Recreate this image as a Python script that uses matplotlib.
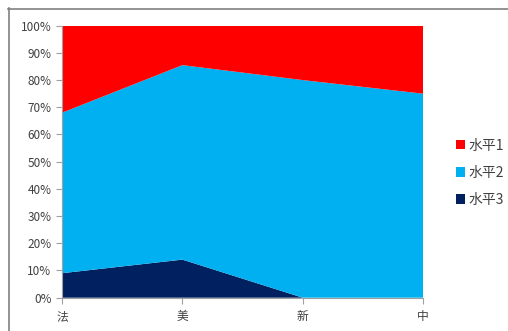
import matplotlib.pyplot as plt
from matplotlib.lines import Line2D
from matplotlib.patches import Patch
from matplotlib.ticker import PercentFormatter

plt.rcParams['font.family'] = ['Noto Sans CJK SC', 'DejaVu Sans']

countries = ['法', '美', '新', '中']
level1 = [32.0, 14.5, 20.0, 25.0]
level2 = [59.0, 71.5, 80.0, 75.0]
level3 = [9.0, 14.0, 0.0, 0.0]
series_names = ['水平1', '水平2', '水平3']
colors = ['#ff0000', '#00b0f0', '#002060']

fig = plt.figure(figsize=(5.08, 3.31), dpi=100)
ax = fig.add_axes([0.122, 0.1006, 0.711, 0.8218])

x = range(len(countries))
# bottom to top: level 3, level 2, level 1
ax.stackplot(x, level3, level2, level1, colors=colors[::-1], linewidth=0)

ax.set_xlim(0, len(countries) - 1)
ax.set_ylim(0, 100)
ax.set_yticks(range(0, 101, 10))
ax.yaxis.set_major_formatter(PercentFormatter(decimals=0))
ax.set_xticks(list(x))
ax.set_xticklabels(countries)

for side in ['top', 'right']:
    ax.spines[side].set_visible(False)
for side in ['left', 'bottom']:
    ax.spines[side].set_color('#a0a0a0')
    ax.spines[side].set_linewidth(0.8)
ax.tick_params(axis='both', colors='#a0a0a0', labelcolor='#404040', labelsize=8.5, length=4, width=0.8)
ax.tick_params(axis='x', pad=5)

handles = [Patch(facecolor=c) for c in colors]
fig.legend(handles, series_names, loc='center left', bbox_to_anchor=(0.897, 0.478),
           frameon=False, fontsize=10, handlelength=0.65, handleheight=0.65,
           handletextpad=0.3, labelspacing=0.95, borderpad=0, borderaxespad=0,
           labelcolor='#404040')

# chart frame
fig.add_artist(Line2D([8 / 508, 1.0], [1 - 8.5 / 331] * 2, transform=fig.transFigure,
                      color='#808080', linewidth=1.2))
fig.add_artist(Line2D([8.5 / 508] * 2, [0.0, 1 - 8 / 331], transform=fig.transFigure,
                      color='#808080', linewidth=1.2))

fig.savefig('out.png', dpi=100)
